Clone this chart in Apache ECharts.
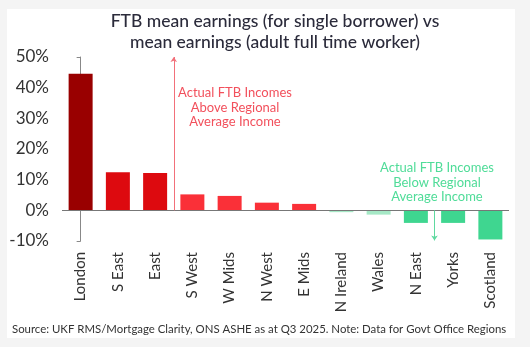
<!DOCTYPE html>
<html><head><meta charset="utf-8">
<script src="https://cdn.jsdelivr.net/npm/echarts@6/dist/echarts.min.js"></script>
<style>html,body{margin:0;padding:0;background:#f4f4f4;}#c{width:530px;height:347px;}</style>
</head><body><div id="c"></div>
<script>
const categories = ['London','S East','East','S West','W Mids','N West','E Mids','N Ireland','Wales','N East','Yorks','Scotland'];
const values = [44.5, 12.4, 12.2, 5.2, 4.7, 2.5, 2.1, -0.6, -1.4, -4.1, -4.1, -9.5];
const yTicks = [-10, 0, 10, 20, 30, 40, 50];
const title = ['FTB mean earnings (for single borrower) vs', 'mean earnings (adult full time worker)'];
const aboveText = ['Actual FTB Incomes', 'Above Regional', 'Average Income'];
const belowText = ['Actual FTB Incomes', 'Below Regional', 'Average Income'];
const source = 'Source: UKF RMS/Mortgage Clarity, ONS ASHE as at Q3 2025. Note: Data for Govt Office Regions';
const aboveArrow = [[2.5, 0], [2.5, 50]];
const belowArrow = [[9.5, 0], [9.5, -9.8]];

const barColors = ['#990000','#dd0a0f','#dd0a0f','#fa3038','#fa3038','#fa3038','#fa3038','#a6e8c6','#a6e8c6','#3fd690','#3fd690','#3fd690'];
const FONT = 'Lato, "Open Sans", sans-serif';
const chart = echarts.init(document.getElementById('c'), null, {renderer:'canvas'});
chart.setOption({
  backgroundColor: '#f4f4f4',
  animation: false,
  textStyle: {fontFamily: FONT},
  grid: {left: 62, right: 21, top: 57, bottom: 106, containLabel: false},
  graphic: [
    {type:'rect', z:-10, shape:{x:7, y:9, width:508, height:329}, style:{fill:'#ffffff'}},
    {type:'text', x:275, y:11, style:{text: title.join('\n'), fill:'#2b2b3b', font:'500 17.5px ' + FONT, lineHeight:21, align:'center'}},
    {type:'text', x:235, y:86, style:{text: aboveText.join('\n'), fill:'#f2505c', font:'13px ' + FONT, lineHeight:14.5, align:'center'}},
    {type:'text', x:437, y:161, style:{text: belowText.join('\n'), fill:'#4fdc98', font:'13px ' + FONT, lineHeight:14.5, align:'center'}},
    {type:'text', x:12, y:324, style:{text: source, fill:'#333333', font:'11.4px ' + FONT}}
  ],
  xAxis: [{
    type:'category', data: categories, position:'bottom',
    axisLine:{show:false, onZero:false}, axisTick:{show:false},
    axisLabel:{rotate:90, margin:11, color:'#333', fontSize:15, fontFamily: FONT}
  },{
    type:'value', min:-0.5, max:11.5, show:false
  }],
  yAxis: {
    type:'value', min: yTicks[0], max: yTicks[yTicks.length-1], interval:10,
    axisLine:{show:true, lineStyle:{color:'#888', width:1}},
    axisTick:{show:true, length:4, lineStyle:{color:'#888'}},
    splitLine:{show:false},
    axisLabel:{formatter:'{value}%', color:'#333', fontSize:17, margin:13, fontFamily: FONT}
  },
  series: [{
    type:'bar', data: values.map((v,i)=>({value:v, itemStyle:{color:barColors[i]}})),
    barWidth: 24,
    markLine:{silent:true, symbol:'none', label:{show:false}, lineStyle:{color:'#777', type:'solid', width:1},
      data:[{yAxis:0}]}
  },{
    type:'line', xAxisIndex:1, data:[], 
    markLine:{silent:true, label:{show:false}, symbol:['none','arrow'], symbolSize:5,
      data:[
        [{coord:aboveArrow[0], lineStyle:{color:'#f2707a', width:1, type:'solid'}}, {coord:aboveArrow[1]}],
        [{coord:belowArrow[0], lineStyle:{color:'#5fd9a0', width:1, type:'solid'}}, {coord:belowArrow[1]}]
      ]}
  }]
});
</script></body></html>
